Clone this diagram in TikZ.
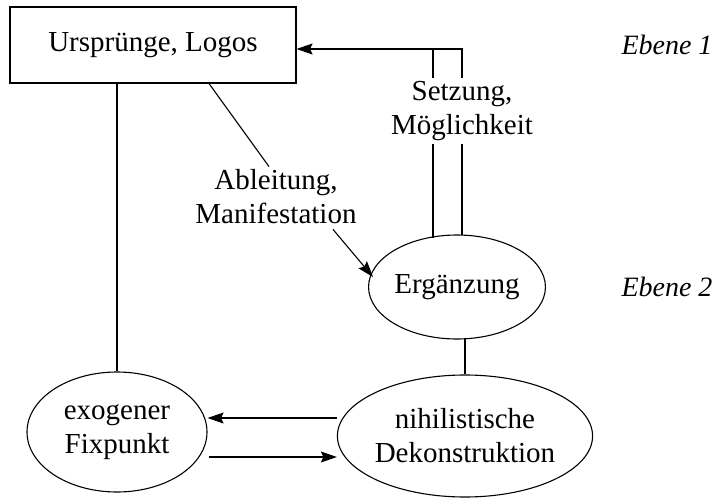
\documentclass[tikz,border=0pt]{standalone}
\usepackage{fontspec}
\setmainfont{Liberation Serif}
\usetikzlibrary{shapes.geometric,arrows.meta,calc}
\begin{document}
\begin{tikzpicture}[x=1pt,y=-1pt,
  every node/.style={font=\fontsize{29}{34}\selectfont, align=center, inner sep=0pt},
  conn/.style={line width=1.1pt, black},
  arr/.style={conn, -{Stealth[length=16pt,width=11pt,inset=2.5pt]}},
  oval/.style={draw, ellipse, line width=1.1pt},
  level/.style={font=\fontsize{28}{34}\selectfont\itshape}]
\useasboundingbox (0,0) rectangle (716,498);

% box and ovals
\node[draw, line width=1.1pt, minimum width=286pt, minimum height=76pt] (origin) at (153,45) {Urspr\"unge, Logos};
\node[oval, minimum width=170pt, minimum height=104pt] (erg) at (457,287) {Erg\"anzung};
\node[oval, minimum width=226pt, minimum height=122pt] (nihil) at (465,436) {nihilistische\\Dekonstruktion};
\node[oval, minimum width=180pt, minimum height=120pt] (exo) at (117,432) {exogener\\Fixpunkt};

% edge labels
\node (derive) at (276,197) {Ableitung,\\Manifestation};
\node (setz) at (462,111) {Setzung,\\M\"oglichkeit};

% level labels
\node[level] (lvA) at (667,45) {Ebene 1};
\node[level] (lvB) at (667,287) {Ebene 2};

% corner of the feedback line
\coordinate (corner) at (462,49);

% derivation: box to supplement
\draw[conn] (origin.south -| 209,0) -- ($(derive.north)+(-7,-3)$);
\draw[arr] ($(derive.south)+(57,5)$) -- ($(erg.center)+(-84,-10)$);

% positing: supplement back to box, double line
\draw[conn] ($(erg.center)+(-24,-49)$) -- ($(setz.south)+(-29,3)$);
\draw[conn] ($(setz.north)+(-29,-3)$) -- (corner -| 433,0);
\draw[conn] ($(erg.center)+(5,-52)$) -- ($(setz.south)+(0,3)$);
\draw[arr] ($(setz.north)+(0,-3)$) -- (corner) -- (corner -| origin.east);

% vertical links
\draw[conn] ($(erg.center)+(8,51)$) -- (nihil.north);
\draw[conn] (origin.south -| exo.north) -- (exo.north);

% exchange between the lower ovals
\draw[arr] (nihil.west |- 0,418) -- (exo.east |- 0,418);
\draw[arr] ($(exo.east |- 0,457)+(1,0)$) -- (nihil.west |- 0,457);
\end{tikzpicture}
\end{document}
